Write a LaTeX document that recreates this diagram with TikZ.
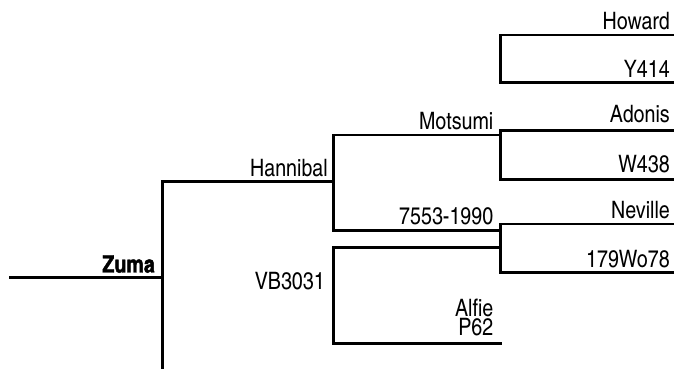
\documentclass[tikz,border=0pt]{standalone}
\usepackage{fontspec}
\newfontfamily\cnfont{texgyreheroscn-regular.otf}[BoldFont=texgyreheroscn-bold.otf,BoldFeatures={FakeBold=1.5}]
\begin{document}
\begin{tikzpicture}[x=1pt,y=1pt,
  lbl/.style={anchor=base east, inner sep=0pt, font=\cnfont\fontsize{24}{24}\selectfont},
  bl/.style={lbl, font=\cnfont\bfseries\fontsize{24}{24}\selectfont},
  ln/.style={line width=2.8pt, line join=miter, line cap=rect}]
\useasboundingbox (0,0) rectangle (683,369);
% junction coordinates (y measured from the bottom)
\coordinate (z0) at (10,91.3);
\coordinate (z1) at (162.7,91.3);
\coordinate (zt) at (162.7,187.3);
\coordinate (zb) at (162.7,-2);
\coordinate (h1) at (333.3,187.3);
\coordinate (ht) at (333.3,234);
\coordinate (hb) at (333.3,138.3);
\coordinate (m1) at (500.7,234);
\coordinate (s1) at (500.7,138.3);
\coordinate (v0) at (333.3,121.7);
\coordinate (v1) at (500.7,121.7);
\coordinate (vb) at (333.3,25.7);
\coordinate (p1) at (500.7,25.7);
% brackets
\coordinate (ho0) at (500.7,334);  \coordinate (ho1) at (672.7,334);
\coordinate (y0) at (500.7,286.5); \coordinate (y1) at (672.7,286.5);
\coordinate (a0) at (500.7,238.3); \coordinate (a1) at (672.7,238.3);
\coordinate (w0) at (500.7,189.7); \coordinate (w1) at (672.7,189.7);
\coordinate (n0) at (500.7,145);   \coordinate (n1) at (672.7,145);
\coordinate (c0) at (500.7,96.5);  \coordinate (c1) at (672.7,96.5);
% lines
\draw[ln] (z0) -- (z1);
\draw[ln] (zb) -- (zt) -- (h1);
\draw[ln] (m1) -- (ht) -- (hb) -- (s1);
\draw[ln] (v1) -- (v0) -- (vb) -- (p1);
\draw[ln] (ho1) -- (ho0) -- (y0) -- (y1);
\draw[ln] (a1) -- (a0) -- (w0) -- (w1);
\draw[ln] (n1) -- (n0) -- (c0) -- (c1);
% labels
\node[lbl] (howard) at (670,339) {Howard};
\node[lbl] (y414) at (670,291) {Y414};
\node[lbl] (adonis) at (670,246) {Adonis};
\node[lbl] (w438) at (670,196.3) {W438};
\node[lbl] (neville) at (670,150.7) {Neville};
\node[lbl] (wo78) at (670,101.7) {179Wo78};
\node[lbl] (motsumi) at (493.5,239) {Motsumi};
\node[lbl] (n7553) at (493.5,144) {7553-1990};
\node[lbl] (hannibal) at (328,192.3) {Hannibal};
\node[lbl] (vb3031) at (325,79) {VB3031};
\node[lbl, align=right, anchor=south east, font=\cnfont\fontsize{24}{19.5}\selectfont] (alfie) at (493.5,32.5) {Alfie\\P62};
\node[bl] (zuma) at (155,96.5) {Zuma};
\end{tikzpicture}
\end{document}
